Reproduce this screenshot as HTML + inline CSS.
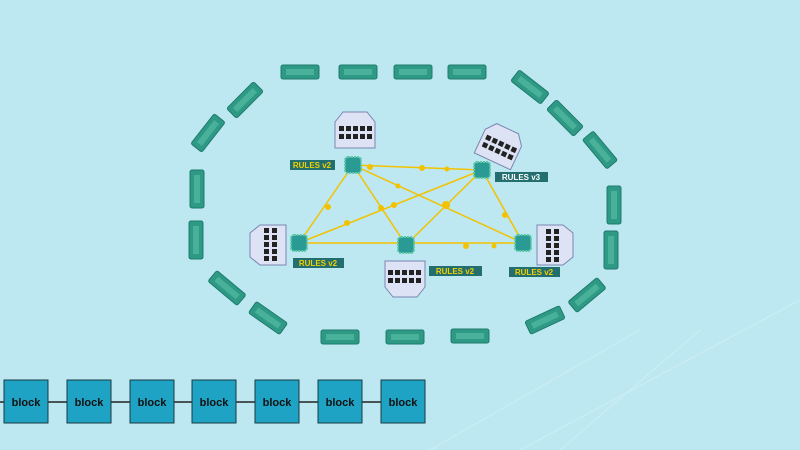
<!DOCTYPE html>
<html><head><style>
body{margin:0;width:800px;height:450px;overflow:hidden;background:#bde8f2;font-family:"Liberation Sans",sans-serif}
</style></head><body>
<svg width="800" height="450" xmlns="http://www.w3.org/2000/svg" style="position:absolute;left:0;top:0">
<defs>
<g id="chip"><rect x="-19" y="-7" width="38" height="14" rx="2" fill="#2e9a86" stroke="#1f7a6a" stroke-width="1"/><rect x="-14" y="-3" width="28" height="6" fill="#5cc0a8" opacity="0.6"/></g>
<g id="node"><rect x="-8" y="-8" width="16" height="16" rx="3" fill="#2a9a94" stroke="#5cc8a8" stroke-width="2" stroke-dasharray="2 1"/></g>
<g id="srv"><path d="M-12,-18 H12 L20,-8 V18 H-20 V-8 Z" fill="#dde3f5" stroke="#7a86b0"/><g fill="#222">
<rect x="-16" y="-4" width="5" height="5"/><rect x="-9" y="-4" width="5" height="5"/><rect x="-2" y="-4" width="5" height="5"/><rect x="5" y="-4" width="5" height="5"/><rect x="12" y="-4" width="5" height="5"/>
<rect x="-16" y="4" width="5" height="5"/><rect x="-9" y="4" width="5" height="5"/><rect x="-2" y="4" width="5" height="5"/><rect x="5" y="4" width="5" height="5"/><rect x="12" y="4" width="5" height="5"/></g></g>
</defs>
<g opacity="0.25" stroke="#fff"><line x1="520" y1="450" x2="800" y2="300"/><line x1="560" y1="450" x2="700" y2="330"/><line x1="430" y1="450" x2="640" y2="330"/></g>
<!-- ring -->
<use href="#chip" transform="translate(300,72)"/><use href="#chip" transform="translate(358,72)"/><use href="#chip" transform="translate(413,72)"/><use href="#chip" transform="translate(467,72)"/>
<use href="#chip" transform="translate(530,87) rotate(38)"/><use href="#chip" transform="translate(565,118) rotate(45)"/><use href="#chip" transform="translate(600,150) rotate(50)"/>
<use href="#chip" transform="translate(614,205) rotate(90)"/><use href="#chip" transform="translate(611,250) rotate(90)"/>
<use href="#chip" transform="translate(587,295) rotate(-40)"/><use href="#chip" transform="translate(545,320) rotate(-25)"/>
<use href="#chip" transform="translate(470,336)"/><use href="#chip" transform="translate(405,337)"/><use href="#chip" transform="translate(340,337)"/>
<use href="#chip" transform="translate(268,318) rotate(35)"/><use href="#chip" transform="translate(227,288) rotate(40)"/>
<use href="#chip" transform="translate(196,240) rotate(90)"/><use href="#chip" transform="translate(197,189) rotate(90)"/>
<use href="#chip" transform="translate(208,133) rotate(-52)"/><use href="#chip" transform="translate(245,100) rotate(-45)"/>
<!-- edges -->
<g stroke="#f2c200" stroke-width="1.5">
<line x1="353" y1="165" x2="482" y2="170"/><line x1="353" y1="165" x2="299" y2="243"/><line x1="353" y1="165" x2="406" y2="245"/><line x1="353" y1="165" x2="523" y2="243"/>
<line x1="482" y1="170" x2="299" y2="243"/><line x1="482" y1="170" x2="406" y2="245"/><line x1="482" y1="170" x2="523" y2="243"/>
<line x1="299" y1="243" x2="523" y2="243"/></g>
<g fill="#f2c200"><circle cx="422" cy="168" r="3"/><circle cx="447" cy="169" r="2.5"/><circle cx="328" cy="207" r="3"/><circle cx="381" cy="208" r="3"/><circle cx="398" cy="186" r="2.5"/><circle cx="446" cy="205" r="4"/><circle cx="347" cy="223" r="3"/><circle cx="505" cy="215" r="3"/><circle cx="466" cy="246" r="3"/><circle cx="494" cy="246" r="2.5"/><circle cx="394" cy="205" r="3"/><circle cx="370" cy="167" r="3"/></g>
<!-- servers -->
<use href="#srv" transform="translate(355,130)"/>
<use href="#srv" transform="translate(500,145) rotate(25)"/>
<use href="#srv" transform="translate(268,245) rotate(-90)"/>
<use href="#srv" transform="translate(405,279) rotate(180)"/>
<use href="#srv" transform="translate(555,245) rotate(90)"/>
<!-- nodes -->
<use href="#node" transform="translate(353,165)"/><use href="#node" transform="translate(482,170)"/><use href="#node" transform="translate(299,243)"/><use href="#node" transform="translate(406,245)"/><use href="#node" transform="translate(523,243)"/>
<!-- labels -->
<g font-family="Liberation Sans" font-size="8" font-weight="bold" fill="#f2d000" text-anchor="middle">
<rect x="290" y="160" width="45" height="10" fill="#236e6e"/><text x="312" y="168">RULES v2</text>
<rect x="495" y="172" width="53" height="10" fill="#236e6e"/><text x="521" y="180" fill="#fff">RULES v3</text>
<rect x="293" y="258" width="51" height="10" fill="#236e6e"/><text x="318" y="266">RULES v2</text>
<rect x="429" y="266" width="53" height="10" fill="#236e6e"/><text x="455" y="274">RULES v2</text>
<rect x="509" y="267" width="51" height="10" fill="#236e6e"/><text x="534" y="275">RULES v2</text>
</g>
<!-- chain -->
<line x1="0" y1="402" x2="425" y2="402" stroke="#222" stroke-width="1.5"/>
<g fill="#1fa3c4" stroke="#1a3a40" stroke-width="1">
<rect x="4" y="380" width="44" height="43"/><rect x="67" y="380" width="44" height="43"/><rect x="130" y="380" width="44" height="43"/><rect x="192" y="380" width="44" height="43"/><rect x="255" y="380" width="44" height="43"/><rect x="318" y="380" width="44" height="43"/><rect x="381" y="380" width="44" height="43"/></g>
<g font-family="Liberation Sans" font-size="11" font-weight="bold" fill="#111" text-anchor="middle">
<text x="26" y="406">block</text><text x="89" y="406">block</text><text x="152" y="406">block</text><text x="214" y="406">block</text><text x="277" y="406">block</text><text x="340" y="406">block</text><text x="403" y="406">block</text></g>
</svg>
</body></html>
